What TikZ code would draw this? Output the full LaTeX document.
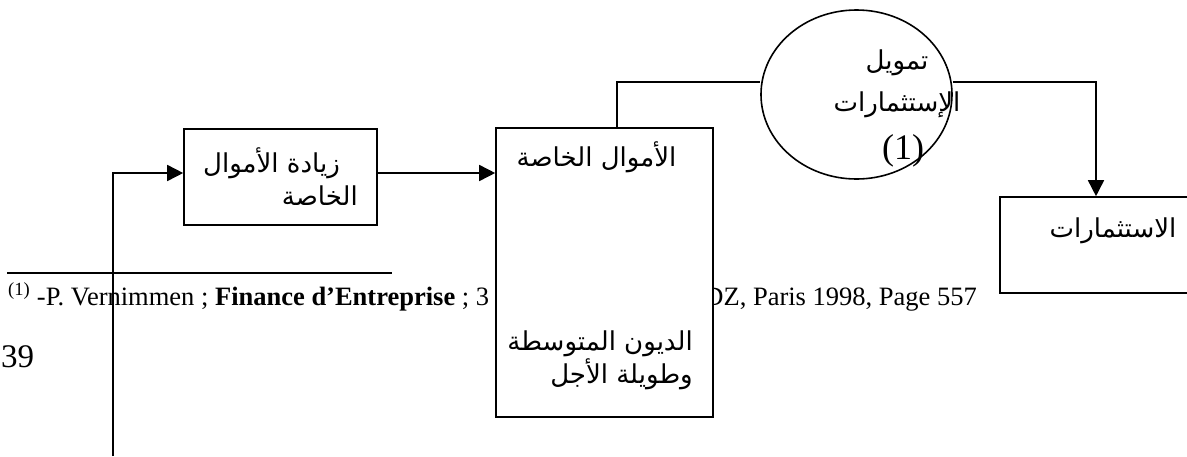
\documentclass[tikz,border=0pt]{standalone}
\usepackage{fontspec}
\setmainfont{Liberation Serif}
\newfontfamily\arabicfont[Script=Arabic]{DejaVu Sans}
\TeXXeTstate=1
\usetikzlibrary{arrows.meta,positioning,shapes.geometric}

\tikzset{
  box/.style={draw, line width=1.6pt, fill=white, inner sep=0pt},
  link/.style={line width=1.6pt},
  flow/.style={line width=1.6pt, -{Triangle[length=16pt,width=16pt]}},
  artext/.style={font=\arabicfont\fontsize{26}{33}\selectfont, align=right, inner sep=0pt},
  foot/.style={font=\fontsize{26.5}{30}\selectfont, inner sep=0pt}
}

\begin{document}
\begin{tikzpicture}[x=1pt,y=-1pt]
    \useasboundingbox (0,0) rectangle (1187,456);
    \clip (0,0) rectangle (1187,456);

    % footnote and page number
    \draw[link] (7,273) -- (392,273);
    \node[foot, anchor=base west] (fnleft) at (8,305) {\textsuperscript{(1)} -P. Vernimmen ; \textbf{Finance d’Entreprise} ; 3};
    \node[foot, anchor=base east] (fnright) at (977,305) {DZ, Paris 1998, Page 557};
    \node[font=\fontsize{33}{36}\selectfont, inner sep=0pt, anchor=base west] (page) at (1,367) {39};

    % boxes
    \node[box, minimum width=193pt, minimum height=96pt] (incr) at (280.5,177) {};
    \node[artext] (incrtxt) at (280.5,177) {\beginR\hspace*{18pt}زيادة الأموال\endR\\\beginR الخاصة\endR};

    \node[box, minimum width=217pt, minimum height=289pt] (funds) at (604.5,272.5) {};
    \node[artext] (equity) at (596.5,157) {\beginR الأموال الخاصة\endR};
    \node[artext, anchor=east] (debt) at (693,360) {\beginR الديون المتوسطة\endR\\\beginR وطويلة الأجل\endR};

    \node[box, minimum width=192pt, minimum height=96pt] (invest) at (1096,245) {};
    \node[artext] (investtxt) at (1113,231) {\beginR الاستثمارات\endR};

    % financing
    \node[draw, ellipse, line width=1.6pt, inner sep=0pt, minimum width=191pt, minimum height=169pt] (fin) at (856.5,94.5) {};
    \node[artext, align=center, font=\arabicfont\fontsize{26}{42}\selectfont] (fintxt) at (897,84) {\beginR تمويل\endR\\\beginR الإستثمارات\endR};
    \node[font=\fontsize{36}{40}\selectfont, inner sep=0pt] (finnote) at (903,151) {(1)};

    % connections
    \coordinate (src) at (113,456);
    \draw[flow] (src) |- ([yshift=4pt]incr.west);
    \draw[flow] ([yshift=4pt]incr.east) -- ([yshift=4pt]incr.east -| funds.west);
    \draw[link] ([xshift=12.5pt]funds.north) |- ([yshift=12.5pt]fin.west);
    \draw[flow] ([yshift=12.5pt]fin.east) -| (invest.north);
\end{tikzpicture}
\end{document}
